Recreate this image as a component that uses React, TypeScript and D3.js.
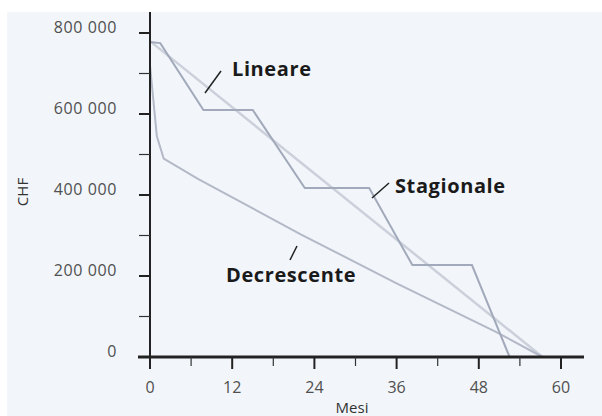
import React, { useEffect, useRef } from 'react'
import * as d3 from 'd3'

// months, CHF
const stagionale: [number, number][] = [
  [0, 778000], [1.5, 775000], [7.8, 610000], [15, 610000], [22.6, 417000],
  [32, 417000], [38.3, 227000], [47, 227000], [52.5, 0],
]
const lineare: [number, number][] = [[0, 780000], [57.3, 0]]
const decrescente: [number, number][] = [
  [0, 720000], [1, 545000], [2, 490000], [7, 440000], [22, 303000],
  [36, 182000], [50.5, 62000], [57.3, 0],
]
const xMajor = [0, 12, 24, 36, 48, 60]
const xMinor = [6, 18, 30, 42, 54]
const yMajor = [0, 200000, 400000, 600000, 800000]
const yMinor = [100000, 300000, 500000, 700000]

const W = 602
const H = 416

export default function App() {
  const svgRef = useRef(null)

  useEffect(() => {
    if (!svgRef.current) return
    const svg = d3.select(svgRef.current)
    svg.selectAll('*').remove()

    const x = d3.scaleLinear().domain([0, 60]).range([150, 561])
    const y = d3.scaleLinear().domain([0, 800000]).range([357, 33])
    const font = '"Open Sans", "DejaVu Sans", sans-serif'

    svg.append('rect').attr('x', 0).attr('y', 0).attr('width', W).attr('height', H).attr('fill', '#ffffff')
    svg.append('rect').attr('x', 7).attr('y', 12).attr('width', W - 7).attr('height', H - 12).attr('fill', '#f2f6fa')

    const line = d3.line<[number, number]>().x(d => x(d[0])).y(d => y(d[1]))

    svg.append('path').attr('d', line(lineare)).attr('fill', 'none')
      .attr('stroke', '#cbd0db').attr('stroke-width', 2.5)
    svg.append('path').attr('d', line(decrescente)).attr('fill', 'none')
      .attr('stroke', '#b3b9c7').attr('stroke-width', 2)
    svg.append('path').attr('d', line(stagionale)).attr('fill', 'none')
      .attr('stroke', '#a2a9bb').attr('stroke-width', 2)

    // y axis
    svg.append('line').attr('x1', 150).attr('x2', 150).attr('y1', 12).attr('y2', 358)
      .attr('stroke', '#222').attr('stroke-width', 2)
    svg.selectAll('.ymaj').data(yMajor).join('line')
      .attr('x1', 139).attr('x2', 150).attr('y1', d => y(d)).attr('y2', d => y(d))
      .attr('stroke', '#222').attr('stroke-width', 2)
    svg.selectAll('.ymin').data(yMinor).join('line')
      .attr('x1', 139).attr('x2', 150).attr('y1', d => y(d)).attr('y2', d => y(d))
      .attr('stroke', '#333').attr('stroke-width', 1.2)
    svg.selectAll('.ylab').data(yMajor).join('text')
      .attr('x', 117).attr('y', d => y(d) + 0).attr('text-anchor', 'end')
      .attr('font-family', font).attr('font-size', 16).attr('letter-spacing', 0.6)
      .attr('fill', '#505050')
      .text(d => d3.format(',')(d).replace(/,/g, ' '))

    // x axis
    svg.append('line').attr('x1', 138).attr('x2', 584).attr('y1', 357).attr('y2', 357)
      .attr('stroke', '#222').attr('stroke-width', 3)
    svg.selectAll('.xmaj').data(xMajor).join('line')
      .attr('x1', d => x(d)).attr('x2', d => x(d)).attr('y1', 357).attr('y2', 369)
      .attr('stroke', '#222').attr('stroke-width', 2)
    svg.selectAll('.xmin').data(xMinor).join('line')
      .attr('x1', d => x(d)).attr('x2', d => x(d)).attr('y1', 357).attr('y2', 366)
      .attr('stroke', '#333').attr('stroke-width', 1.2)
    svg.selectAll('.xlab').data(xMajor).join('text')
      .attr('x', d => x(d)).attr('y', 393).attr('text-anchor', 'middle')
      .attr('font-family', font).attr('font-size', 16).attr('fill', '#505050')
      .text(d => String(d))

    svg.append('text').attr('x', 352).attr('y', 413).attr('text-anchor', 'middle')
      .attr('font-family', font).attr('font-size', 15).attr('fill', '#333').text('Mesi')
    svg.append('text').attr('transform', 'translate(28,192) rotate(-90)').attr('text-anchor', 'middle')
      .attr('font-family', font).attr('font-size', 15).attr('fill', '#333').text('CHF')

    // callouts
    const callouts = [
      { text: 'Lineare', tx: 232, ty: 76, l: [205, 93, 221, 71] },
      { text: 'Stagionale', tx: 395, ty: 193, l: [372, 198, 389, 183] },
      { text: 'Decrescente', tx: 226, ty: 282, l: [290, 260, 297, 246] },
    ]
    callouts.forEach(c => {
      svg.append('line').attr('x1', c.l[0]).attr('y1', c.l[1]).attr('x2', c.l[2]).attr('y2', c.l[3])
        .attr('stroke', '#222').attr('stroke-width', 1.5)
      svg.append('text').attr('x', c.tx).attr('y', c.ty).attr('font-family', font)
        .attr('font-size', 20).attr('font-weight', 700).attr('letter-spacing', 0.6)
        .attr('fill', '#1a1a1a').text(c.text)
    })
  }, [])

  return (
    <div style={{ position: 'absolute', left: 0, top: 0 }}>
      <svg ref={svgRef} width={W} height={H} style={{ display: 'block' }} />
    </div>
  )
}
